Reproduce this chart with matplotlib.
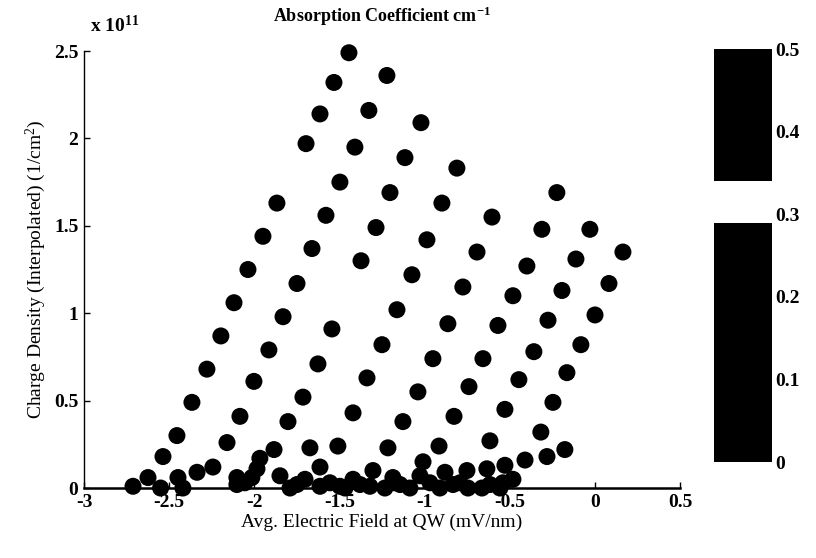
import numpy as np
import matplotlib
matplotlib.use("Agg")
import matplotlib.pyplot as plt
from matplotlib.colors import ListedColormap, Normalize
from matplotlib.cm import ScalarMappable

plt.rcParams['font.family'] = ['Liberation Serif', 'DejaVu Serif']
plt.rcParams['axes.unicode_minus'] = False
plt.rcParams['mathtext.default'] = 'regular'

# charge density in units of 1e11 1/cm^2, field in mV/nm
line1_x = [-1.444, -1.532, -1.614, -1.696, -1.867, -1.949, -2.037, -2.119, -2.196,
           -2.278, -2.366, -2.454, -2.536, -2.624, -2.712]
line1_y = [2.49, 2.32, 2.14, 1.97, 1.63, 1.44, 1.25, 1.06, 0.87, 0.68, 0.49, 0.30,
           0.18, 0.06, 0.01]

line2_x = [-1.221, -1.327, -1.409, -1.497, -1.579, -1.661, -1.749, -1.831, -1.914,
           -2.002, -2.084, -2.160, -2.243, -2.336, -2.448]
line2_y = [2.36, 2.16, 1.95, 1.75, 1.56, 1.37, 1.17, 0.98, 0.79, 0.61, 0.41, 0.26,
           0.12, 0.09, 0.06]

line3_x = [-1.021, -1.115, -1.203, -1.285, -1.373, -1.544, -1.626, -1.714, -1.802,
           -1.884, -1.967]
line3_y = [2.09, 1.89, 1.69, 1.49, 1.30, 0.91, 0.71, 0.52, 0.38, 0.22, 0.17]

line4_x = [-0.810, -0.898, -0.986, -1.074, -1.162, -1.250, -1.338, -1.420, -1.509]
line4_y = [1.83, 1.63, 1.42, 1.22, 1.02, 0.82, 0.63, 0.43, 0.24]

line5_x = [-0.604, -0.692, -0.775, -0.863, -0.951, -1.039, -1.127, -1.215]
line5_y = [1.55, 1.35, 1.15, 0.94, 0.74, 0.55, 0.38, 0.23]

line6_x = [-0.223, -0.311, -0.399, -0.481, -0.569, -0.657, -0.739, -0.827, -0.915]
line6_y = [1.69, 1.48, 1.27, 1.10, 0.93, 0.74, 0.58, 0.41, 0.24]

line7_x = [-0.029, -0.111, -0.193, -0.275, -0.358, -0.446, -0.528, -0.616]
line7_y = [1.48, 1.31, 1.13, 0.96, 0.78, 0.62, 0.45, 0.27]

line8_x = [0.165, 0.083, 0.001, -0.082, -0.164, -0.246, -0.317]
line8_y = [1.35, 1.17, 0.99, 0.82, 0.66, 0.49, 0.32]

tail_x = [-0.176, -0.281, -0.410, -0.528, -0.634, -0.751, -0.880, -1.009]
tail_y = [0.22, 0.18, 0.16, 0.13, 0.11, 0.10, 0.09, 0.15]

low_x = [-1.673, -1.614, -1.849, -1.984, -2.014, -2.102, -2.102, -2.419, -2.550,
         -1.749, -1.614, -1.497, -1.420, -1.321, -1.303, -1.186, -1.086, -1.027,
         -0.833, -0.745, -0.663, -0.540, -0.481, -1.186, -2.055,
         -1.790, -1.702, -1.556, -1.467, -1.379, -1.233, -1.144, -0.968, -0.910,
         -0.792, -0.616, -0.557]
low_y = [0.23, 0.12, 0.07, 0.11, 0.06, 0.06, 0.02, 0.00, 0.00,
         0.02, 0.01, 0.01, 0.05, 0.01, 0.10, 0.06, 0.00, 0.07,
         0.02, 0.00, 0.00, 0.03, 0.05, 0.03, 0.03,
         0.00, 0.05, 0.03, 0.00, 0.02, 0.00, 0.02, 0.03, 0.00,
         0.03, 0.02, 0.00]

all_x = [line1_x, line2_x, line3_x, line4_x, line5_x, line6_x, line7_x, line8_x, tail_x, low_x]
all_y = [line1_y, line2_y, line3_y, line4_y, line5_y, line6_y, line7_y, line8_y, tail_y, low_y]

x_ticks = [-3, -2.5, -2, -1.5, -1, -0.5, 0, 0.5]
y_ticks = [0, 0.5, 1, 1.5, 2, 2.5]
cbar_ticks = [0, 0.1, 0.2, 0.3, 0.4, 0.5]

fig = plt.figure(figsize=(8.16, 5.58), dpi=100)
ax = fig.add_axes([0.1029, 0.1254, 0.7304, 0.7832])

for xs, ys in zip(all_x, all_y):
    ax.scatter(xs, ys, s=150, color='black', edgecolors='none', zorder=3, clip_on=False)

ax.set_xlim(-3, 0.5)
ax.set_ylim(0, 2.5)
ax.set_xticks(x_ticks)
ax.set_xticklabels(['%g' % t for t in x_ticks])
ax.set_yticks(y_ticks)
ax.set_yticklabels(['%g' % t for t in y_ticks])
ax.tick_params(direction='in', length=4, width=1, labelsize=14, pad=4)
for lab in ax.get_xticklabels() + ax.get_yticklabels():
    lab.set_fontweight('bold')

ax.spines['top'].set_visible(False)
ax.spines['right'].set_visible(False)
ax.spines['bottom'].set_linewidth(1.8)
ax.spines['left'].set_linewidth(1.0)
ax.spines['left'].set_linestyle((0, (3, 1)))

ax.set_xlabel('Avg. Electric Field at QW (mV/nm)', fontsize=14, labelpad=2)
ax.set_ylabel('Charge Density (Interpolated) (1/cm$^2$)', fontsize=14, labelpad=4)
fig.text(0.468, 0.970, 'Absorption Coefficient cm$^{-1}$', fontsize=13,
         fontweight='bold', ha='center', va='center')
ax.text(0.01, 1.035, 'x 10$^{11}$', transform=ax.transAxes, fontsize=14,
        fontweight='bold', ha='left', va='bottom')

# colorbar: black except a white band near 0.3
n = 100
colors = np.zeros((n, 4))
colors[:, 3] = 1
colors[58:68, :3] = 1
cmap = ListedColormap(colors)
cax = fig.add_axes([0.875, 0.172, 0.0711, 0.740])
sm = ScalarMappable(norm=Normalize(0, 0.5), cmap=cmap)
cb = fig.colorbar(sm, cax=cax, ticks=cbar_ticks)
cb.outline.set_visible(False)
cb.ax.tick_params(length=0, labelsize=14, pad=2)
cb.ax.set_yticklabels(['%g' % t for t in cbar_ticks])
for lab in cb.ax.get_yticklabels():
    lab.set_fontweight('bold')

fig.savefig('out.png', dpi=100)
